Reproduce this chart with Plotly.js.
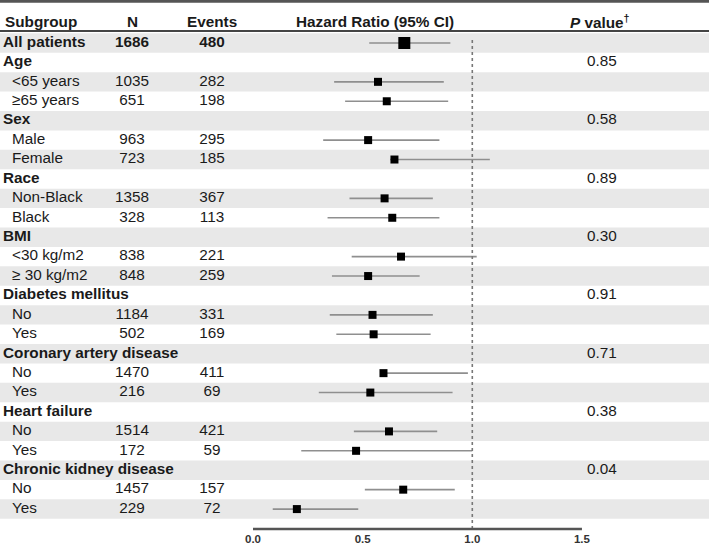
<!DOCTYPE html>
<html>
<head>
<meta charset="utf-8">
<script src="https://cdn.plot.ly/plotly-3.0.1.min.js"></script>
<style>html,body{margin:0;padding:0;background:#fff;}#chart{width:709px;height:547px;}</style>
</head>
<body>
<div id="chart"></div>
<script>
// ---- data ----
var subgroups = ['All patients','Age','<65 years','≥65 years','Sex','Male','Female','Race','Non-Black','Black','BMI','<30 kg/m2','≥ 30 kg/m2','Diabetes mellitus','No','Yes','Coronary artery disease','No','Yes','Heart failure','No','Yes','Chronic kidney disease','No','Yes'];
var isHeading = [1,1,0,0,1,0,0,1,0,0,1,0,0,1,0,0,1,0,0,1,0,0,1,0,0];
var nPatients = [1686,null,1035,651,null,963,723,null,1358,328,null,838,848,null,1184,502,null,1470,216,null,1514,172,null,1457,229];
var nEvents   = [480,null,282,198,null,295,185,null,367,113,null,221,259,null,331,169,null,411,69,null,421,59,null,157,72];
var hr    = [0.69,null,0.57,0.61,null,0.525,0.645,null,0.60,0.635,null,0.675,0.525,null,0.545,0.55,null,0.595,0.535,null,0.62,0.47,null,0.685,0.20];
var ciLow = [0.53,null,0.37,0.42,null,0.32,0.625,null,0.44,0.34,null,0.45,0.36,null,0.35,0.38,null,0.58,0.30,null,0.46,0.22,null,0.51,0.09];
var ciHigh= [0.90,null,0.87,0.89,null,0.85,1.08,null,0.82,0.85,null,1.02,0.76,null,0.82,0.81,null,0.98,0.91,null,0.84,1.00,null,0.92,0.48];
var pValues = [null,'0.85',null,null,'0.58',null,null,'0.89',null,null,'0.30',null,null,'0.91',null,null,'0.71',null,null,'0.38',null,null,'0.04',null,null];
var tickVals = [0,0.5,1,1.5];
var tickLabels = ['0.0','0.5','1.0','1.5'];
var headers = ['Subgroup','N','Events','Hazard Ratio (95% CI)','<i>P</i> value<sup>†</sup>'];

// ---- layout helpers ----
var FONT = '"Liberation Sans", Arial, sans-serif';
var FS = 15.3;
var TXT = '#1a1a1a';
var rows = subgroups.map(function(_, i){ return i + 1; });
var pxPerUnit = 219.3, x0px = 253;
function px(p){ return (p - x0px) / pxPerUnit; }

var traces = [];

// subgroup labels
var headIdx = rows.filter(function(r,i){return isHeading[i];});
var subIdx = rows.filter(function(r,i){return !isHeading[i];});
traces.push({
  type:'scatter', mode:'text', hoverinfo:'skip',
  x: headIdx.map(function(){return px(3);}), y: headIdx,
  text: subgroups.filter(function(s,i){return isHeading[i];}).map(function(s){return '<b>'+s+'</b>';}),
  textposition:'middle right', textfont:{family:FONT,size:FS,color:TXT}
});
traces.push({
  type:'scatter', mode:'text', hoverinfo:'skip',
  x: subIdx.map(function(){return px(12);}), y: subIdx,
  text: subgroups.filter(function(s,i){return !isHeading[i];}),
  textposition:'middle right', textfont:{family:FONT,size:FS,color:TXT}
});
// N & Events & P
function numCol(arr, cx){
  var xs=[], ys=[], ts=[];
  arr.forEach(function(v,i){ if(v!==null){ xs.push(px(cx)); ys.push(rows[i]); ts.push(i===0?'<b>'+v+'</b>':String(v)); }});
  return {type:'scatter',mode:'text',hoverinfo:'skip',x:xs,y:ys,text:ts,textposition:'middle center',textfont:{family:FONT,size:FS,color:TXT}};
}
traces.push(numCol(nPatients,132));
traces.push(numCol(nEvents,212));
traces.push(numCol(pValues,602));

// hazard ratios with CI
var fx=[],fy=[],fp=[],fm=[],fs=[];
hr.forEach(function(v,i){ if(v!==null){ fx.push(v); fy.push(rows[i]); fp.push(ciHigh[i]-v); fm.push(v-ciLow[i]); fs.push(i===0?12:8); }});
traces.push({
  type:'scatter', mode:'markers', hoverinfo:'skip',
  x:fx, y:fy,
  marker:{symbol:'square', size:fs, color:'#000', opacity:1, line:{width:0}},
  error_x:{type:'data', symmetric:false, array:fp, arrayminus:fm, color:'#8f8f8f', thickness:1.6, width:0}
});

// shapes
var shapes = [];
rows.forEach(function(r,i){
  if(i%2===0){
    shapes.push({type:'rect',layer:'below',xref:'paper',yref:'y',x0:0,x1:1,y0:r-0.5,y1:r+0.5,fillcolor:'#e8e8e8',line:{width:0}});
  }
});
var H = 529;
function py(p){ return 1 - p/H; }
shapes.push({type:'line',xref:'paper',yref:'paper',x0:0,x1:1,y0:py(1.2),y1:py(1.2),line:{color:'#555',width:3}});
shapes.push({type:'line',xref:'paper',yref:'paper',x0:0,x1:1,y0:py(31),y1:py(31),line:{color:'#444',width:2}});
shapes.push({type:'line',xref:'x',yref:'paper',x0:1,x1:1,y0:py(40),y1:0,line:{color:'#777',width:1.6,dash:'3px,3px'}});
shapes.push({type:'line',xref:'x',yref:'paper',x0:tickVals[0],x1:tickVals[tickVals.length-1],y0:0,y1:0,line:{color:'#555',width:2.5}});

// header annotations
var headX = [3,132,212,375,600];
var annotations = headers.map(function(h,i){
  return {xref:'x',yref:'paper',x:px(headX[i]),y:py(22),text:'<b>'+h+'</b>',showarrow:false,
    xanchor:i===0?'left':'center',yanchor:'middle',font:{family:FONT,size:FS,color:TXT}};
});

var layout = {
  width:709, height:547,
  margin:{l:0,r:0,t:0,b:547-H,pad:0},
  paper_bgcolor:'#fff', plot_bgcolor:'rgba(0,0,0,0)',
  showlegend:false,
  xaxis:{range:[px(0),px(709)],showgrid:false,zeroline:false,showline:false,ticks:'',ticklabelstandoff:1,
    tickvals:tickVals,ticktext:tickLabels,tickfont:{family:FONT,size:11.5,color:'#333',weight:'bold'},automargin:false,fixedrange:true},
  yaxis:{range:[1+(H-43)/19.42, 1-43/19.42],visible:false,showgrid:false,zeroline:false,fixedrange:true},
  shapes:shapes, annotations:annotations
};
Plotly.newPlot('chart',traces,layout,{displayModeBar:false,staticPlot:true});
</script>
</body>
</html>
